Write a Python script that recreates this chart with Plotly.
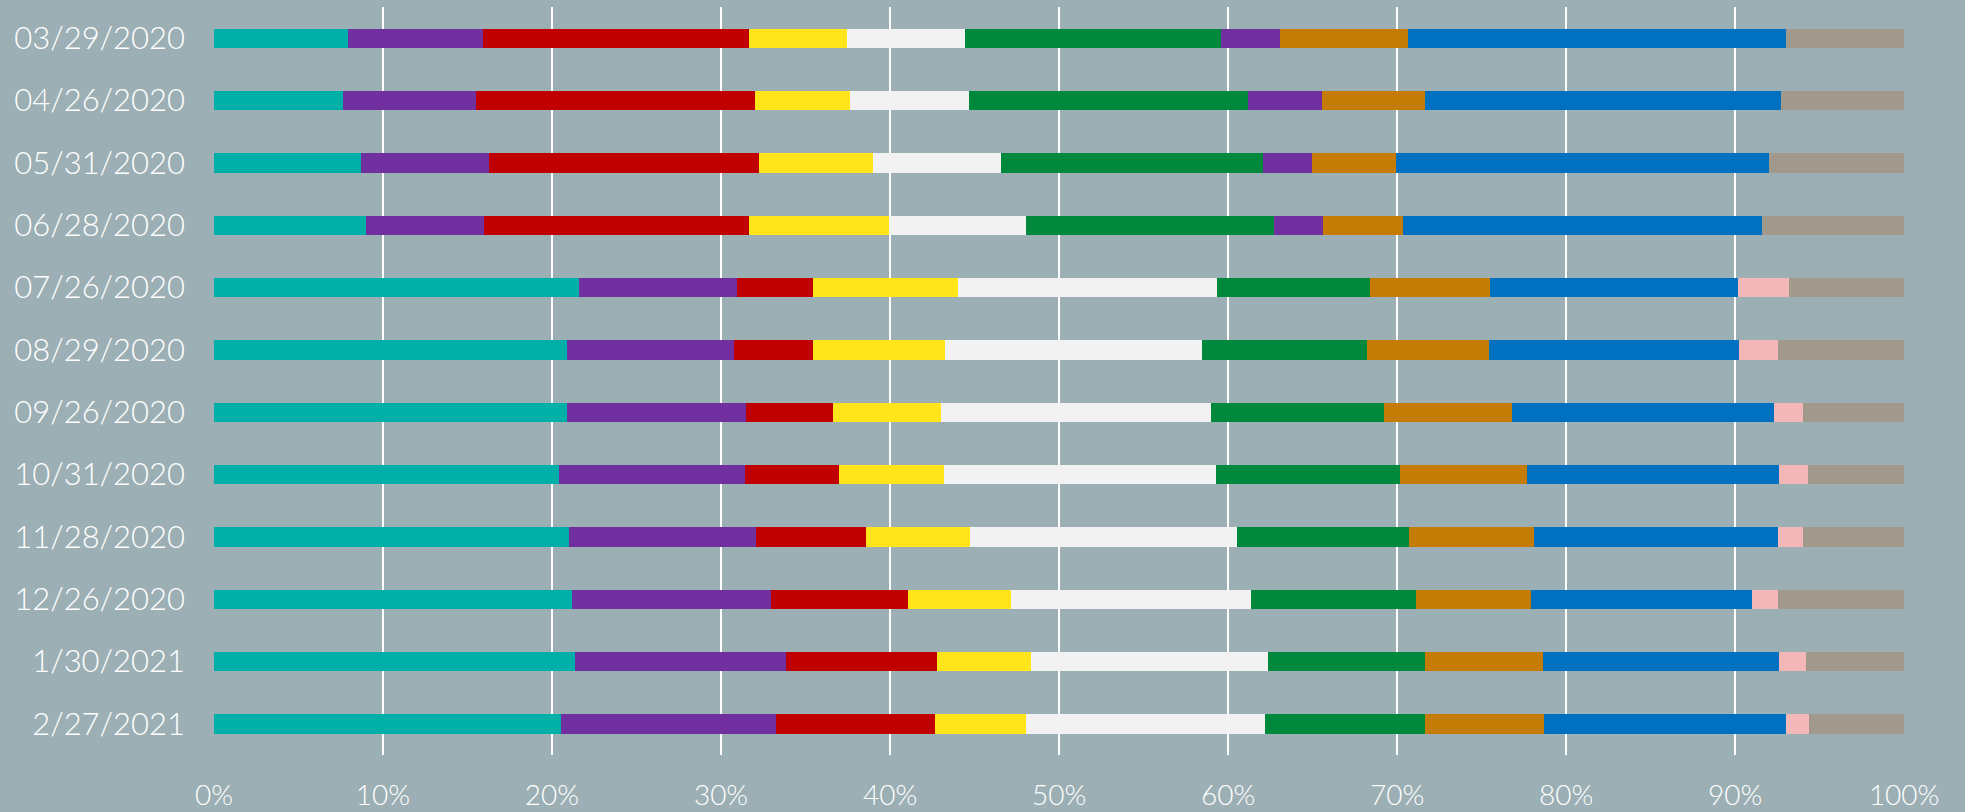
import plotly.graph_objects as go

dates = ["03/29/2020", "04/26/2020", "05/31/2020", "06/28/2020", "07/26/2020", "08/29/2020",
         "09/26/2020", "10/31/2020", "11/28/2020", "12/26/2020", "1/30/2021", "2/27/2021"]

teal    = [7.9, 7.6, 8.7, 9.0, 21.6, 20.9, 20.9, 20.4, 21.0, 21.2, 21.4, 20.5]
purple  = [8.0, 7.9, 7.6, 7.0, 9.3, 9.9, 10.6, 11.0, 11.1, 11.8, 12.5, 12.7]
red     = [15.7, 16.5, 16.0, 15.7, 4.5, 4.7, 5.1, 5.6, 6.5, 8.1, 8.9, 9.4]
yellow  = [5.8, 5.6, 6.7, 8.3, 8.6, 7.8, 6.4, 6.2, 6.2, 6.1, 5.6, 5.4]
light   = [7.0, 7.0, 7.6, 8.1, 15.3, 15.2, 16.0, 16.1, 15.8, 14.2, 14.0, 14.1]
green   = [15.1, 16.5, 15.5, 14.7, 9.0, 9.8, 10.2, 10.9, 10.2, 9.8, 9.3, 9.5]
purple2 = [3.5, 4.4, 2.9, 2.9, 0, 0, 0, 0, 0, 0, 0, 0]
orange  = [7.6, 6.1, 5.0, 4.7, 7.1, 7.2, 7.6, 7.5, 7.4, 6.8, 7.0, 7.0]
blue    = [22.3, 21.0, 22.1, 21.3, 14.7, 14.8, 15.5, 14.9, 14.4, 13.1, 14.0, 14.3]
pink    = [0, 0, 0, 0, 3.0, 2.3, 1.7, 1.7, 1.5, 1.5, 1.6, 1.4]
gray    = [7.0, 7.3, 8.0, 8.4, 6.8, 7.5, 6.0, 5.7, 6.0, 7.5, 5.8, 5.6]

tick_vals = [0, 10, 20, 30, 40, 50, 60, 70, 80, 90, 100]
tick_text = ["0%", "10%", "20%", "30%", "40%", "50%", "60%", "70%", "80%", "90%", "100%"]

series = [
    ("Teal", teal, "#00AFA8"),
    ("Purple", purple, "#7030A0"),
    ("Red", red, "#C00000"),
    ("Yellow", yellow, "#FFE51A"),
    ("Light", light, "#F2F2F2"),
    ("Green", green, "#00893D"),
    ("Purple 2", purple2, "#7030A0"),
    ("Orange", orange, "#C57C07"),
    ("Blue", blue, "#0070C0"),
    ("Pink", pink, "#F4B7B8"),
    ("Gray", gray, "#A0998C"),
]

fig = go.Figure()
for name, vals, col in series:
    fig.add_trace(go.Bar(
        y=dates, x=vals, name=name, orientation="h",
        marker=dict(color=col, line=dict(width=0)),
    ))

bg = "#9CAFB4"
font_fam = "Lato"
fig.update_layout(
    barmode="stack",
    barnorm="percent",
    bargap=0.69,
    width=1965, height=812,
    paper_bgcolor=bg, plot_bgcolor=bg,
    showlegend=False,
    margin=dict(l=214, r=60, t=7, b=57),
    font=dict(family=font_fam, color="white", size=28, weight=300),
)
fig.update_xaxes(
    range=[0, 100.05],
    tickvals=tick_vals,
    ticktext=tick_text,
    showgrid=True, gridcolor="white", gridwidth=2,
    zeroline=False, showline=False,
    automargin=False,
    ticklabelstandoff=21,
    tickfont=dict(family=font_fam, size=28, color="white", weight=300),
)
fig.update_yaxes(
    categoryorder="array", categoryarray=dates, autorange="reversed",
    showgrid=False, zeroline=False, showline=False,
    automargin=False,
    ticklabelstandoff=28,
    tickfont=dict(family=font_fam, size=31, color="white", weight=300),
)

fig.write_html(
    "out.html",
    config={"displayModeBar": False},
    post_script="document.body.style.margin='0';document.body.style.padding='0';"
                "document.body.style.overflow='hidden';document.body.style.background='#9CAFB4';",
)
